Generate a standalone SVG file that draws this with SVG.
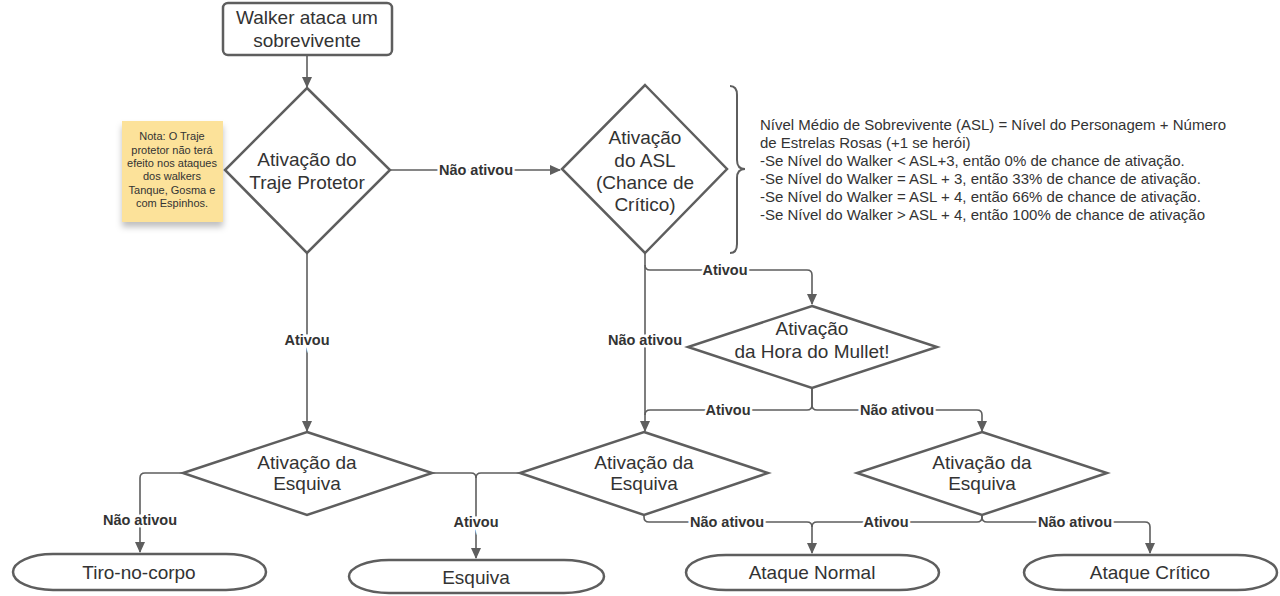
<svg xmlns="http://www.w3.org/2000/svg" width="1280" height="596" viewBox="0 0 1280 596">
<style>
.shape{fill:#fff;stroke:#5e5e5e;stroke-width:2.5}
.t{font-family:"Liberation Sans",Arial,sans-serif;font-size:19px;fill:#333;text-anchor:middle;dominant-baseline:central}
.c{fill:none;stroke:#5e5e5e;stroke-width:1.6}
.lbl{font-family:"Liberation Sans",Arial,sans-serif;font-size:14.5px;font-weight:bold;fill:#333;text-anchor:middle;dominant-baseline:central;stroke:#fff;stroke-width:5;paint-order:stroke}
.note{font-family:"Liberation Sans",Arial,sans-serif;font-size:11px;fill:#333;text-anchor:middle;dominant-baseline:central}
.info{font-family:"Liberation Sans",Arial,sans-serif;font-size:15px;fill:#333;dominant-baseline:central}
</style>
<defs>
<marker id="arr" markerWidth="12" markerHeight="12" refX="10" refY="5" orient="auto" markerUnits="userSpaceOnUse">
<path d="M0,0 L11,5 L0,10 Z" fill="#5e5e5e"/>
</marker>
<filter id="sh" x="-20%" y="-20%" width="140%" height="150%">
<feDropShadow dx="0" dy="5" stdDeviation="3" flood-color="#000" flood-opacity="0.25"/>
</filter>
</defs>
<rect width="1280" height="596" fill="#fff"/>

<g id="connectors">
<path class="c" d="M307,56 V87" marker-end="url(#arr)"/>
<path class="c" d="M391,170 H560" marker-end="url(#arr)"/>
<path class="c" d="M307,253 V431" marker-end="url(#arr)"/>
<path class="c" d="M645,253 V431" marker-end="url(#arr)"/>
<path class="c" d="M645,265 Q645,270 650,270 H807 Q812,270 812,275 V304" marker-end="url(#arr)"/>
<path class="c" d="M812,388 V405 Q812,410 807,410 H650 Q645,410 645,415"/>
<path class="c" d="M812,388 V405 Q812,410 817,410 H977 Q982,410 982,415 V431" marker-end="url(#arr)"/>
<path class="c" d="M183,473 H145 Q140,473 140,478 V552" marker-end="url(#arr)"/>
<path class="c" d="M432,473 H471 Q476,473 476,478 V558" marker-end="url(#arr)"/>
<path class="c" d="M520,473 H481 Q476,473 476,478"/>
<path class="c" d="M644,515 V517 Q644,522 649,522 H807 Q812,522 812,527 V553" marker-end="url(#arr)"/>
<path class="c" d="M982,515 V517 Q982,522 977,522 H817 Q812,522 812,527"/>
<path class="c" d="M982,515 V517 Q982,522 987,522 H1145 Q1150,522 1150,527 V553" marker-end="url(#arr)"/>
<text class="lbl" x="476" y="170">Não ativou</text>
<text class="lbl" x="307" y="340">Ativou</text>
<text class="lbl" x="645" y="340">Não ativou</text>
<text class="lbl" x="725" y="270">Ativou</text>
<text class="lbl" x="728" y="410">Ativou</text>
<text class="lbl" x="897" y="410">Não ativou</text>
<text class="lbl" x="140" y="520">Não ativou</text>
<text class="lbl" x="476" y="522">Ativou</text>
<text class="lbl" x="727" y="522">Não ativou</text>
<text class="lbl" x="886" y="522">Ativou</text>
<text class="lbl" x="1075" y="522">Não ativou</text>
</g>

<g id="start">
<rect class="shape" x="223" y="3" width="169" height="52" rx="5"/>
<text class="t" x="307" y="17">Walker ataca um</text>
<text class="t" x="307" y="40">sobrevivente</text>
</g>

<g id="note">
<rect x="122" y="121" width="101" height="101" fill="#fce29a" filter="url(#sh)"/>
<text class="note" x="172" y="136">Nota: O Traje</text>
<text class="note" x="172" y="150">protetor não terá</text>
<text class="note" x="172" y="163">efeito nos ataques</text>
<text class="note" x="172" y="176">dos walkers</text>
<text class="note" x="172" y="190">Tanque, Gosma e</text>
<text class="note" x="172" y="203">com Espinhos.</text>
</g>

<g id="traje">
<path class="shape" d="M307,88 L390,170 L307,253 L225,170 Z"/>
<text class="t" x="307" y="159">Ativação do</text>
<text class="t" x="307" y="182">Traje Protetor</text>
</g>

<g id="asl">
<path class="shape" d="M645,85 L727,169 L645,253 L562,169 Z"/>
<text class="t" x="645" y="137">Ativação</text>
<text class="t" x="645" y="160">do ASL</text>
<text class="t" x="645" y="182">(Chance de</text>
<text class="t" x="645" y="204">Crítico)</text>
</g>

<g id="brace">
<path d="M730,86 Q737,86 737,95 V160 Q737,169 745,169 Q737,169 737,178 V244 Q737,253 730,253" fill="none" stroke="#5e5e5e" stroke-width="2"/>
</g>

<g id="info">
<text class="info" x="760" y="124">Nível Médio de Sobrevivente (ASL) = Nível do Personagem + Número</text>
<text class="info" x="760" y="142">de Estrelas Rosas (+1 se herói)</text>
<text class="info" x="760" y="160">-Se Nível do Walker &lt; ASL+3, então 0% de chance de ativação.</text>
<text class="info" x="760" y="178">-Se Nível do Walker = ASL + 3, então 33% de chance de ativação.</text>
<text class="info" x="760" y="196">-Se Nível do Walker = ASL + 4, então 66% de chance de ativação.</text>
<text class="info" x="760" y="214">-Se Nível do Walker &gt; ASL + 4, então 100% de chance de ativação</text>
</g>

<g id="mullet">
<path class="shape" d="M812,306 L937,347 L812,388 L688,347 Z"/>
<text class="t" x="812" y="328">Ativação</text>
<text class="t" x="812" y="351">da Hora do Mullet!</text>
</g>

<g id="esquiva1">
<path class="shape" d="M307,432 L432,473 L307,515 L183,473 Z"/>
<text class="t" x="307" y="462">Ativação da</text>
<text class="t" x="307" y="483">Esquiva</text>
</g>

<g id="esquiva2">
<path class="shape" d="M644,432 L768,473 L644,515 L520,473 Z"/>
<text class="t" x="644" y="462">Ativação da</text>
<text class="t" x="644" y="483">Esquiva</text>
</g>

<g id="esquiva3">
<path class="shape" d="M982,432 L1107,473 L982,515 L857,473 Z"/>
<text class="t" x="982" y="462">Ativação da</text>
<text class="t" x="982" y="483">Esquiva</text>
</g>

<g id="tiro">
<rect class="shape" x="13" y="554" width="253" height="36" rx="40" ry="18"/>
<text class="t" x="139" y="572">Tiro-no-corpo</text>
</g>

<g id="esquiva-end">
<rect class="shape" x="349" y="560" width="255" height="33" rx="40" ry="16.5"/>
<text class="t" x="476" y="577">Esquiva</text>
</g>

<g id="normal">
<rect class="shape" x="686" y="555" width="253" height="35" rx="40" ry="17.5"/>
<text class="t" x="812" y="572">Ataque Normal</text>
</g>

<g id="critico">
<rect class="shape" x="1024" y="555" width="253" height="35" rx="40" ry="17.5"/>
<text class="t" x="1150" y="572">Ataque Crítico</text>
</g>
</svg>
